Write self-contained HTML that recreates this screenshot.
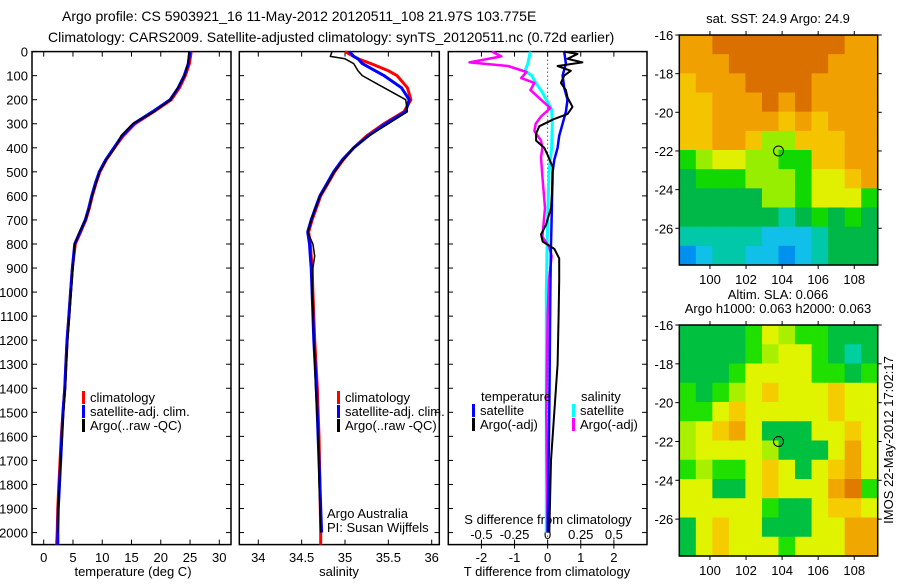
<!DOCTYPE html>
<html><head><meta charset="utf-8"><style>
body{margin:0;background:#fff;}
svg text{font-family:"Liberation Sans",sans-serif;font-size:13px;fill:#000;}
</style></head><body>
<svg id="fig" width="900" height="580" xmlns="http://www.w3.org/2000/svg">
<rect width="900" height="580" fill="#fff"/>
<text x="62" y="21" style="font-size:14px">Argo profile: CS 5903921_16 11-May-2012 20120511_108 21.97S 103.775E</text>
<text x="48" y="42" style="font-size:14px">Climatology: CARS2009. Satellite-adjusted climatology: synTS_20120511.nc (0.72d earlier)</text>
<g id="g"></g>
<text transform="translate(893,440) rotate(-90)" text-anchor="middle">IMOS 22-May-2012 17:02:17</text>
</svg>
<script>
// depth grids and values
const tDepth=[0,50,100,150,200,250,300,350,400,450,500,550,600,650,700,750,800,900,1000,1100,1200,1300,1400,1500,1600,1700,1800,1900,2000,2050];
const tClim=[25.2,24.9,24.2,23.2,21.8,18.8,15.6,13.6,12.1,10.7,9.6,8.9,8.3,7.8,7.2,6.3,5.4,4.9,4.6,4.3,4.0,3.8,3.6,3.3,3.0,2.8,2.6,2.4,2.3,2.2];
const tSat=[25.0,24.7,24.0,23.0,21.6,18.6,15.4,13.4,12.0,10.6,9.5,8.8,8.2,7.7,7.1,6.2,5.3,4.9,4.6,4.3,4.0,3.8,3.6,3.3,3.1,2.9,2.7,2.5,2.4,2.4];
const tArgo=[24.8,24.6,24.1,22.9,21.7,18.9,15.2,13.2,12.2,10.7,9.6,8.9,8.3,7.8,7.1,6.1,5.3,5.0,4.7,4.4,4.1,3.9,3.7,3.4,3.2,2.9,2.7,2.5,2.4,null];
const sDepth=[0,20,30,50,80,100,150,200,250,300,350,400,450,500,550,600,650,700,750,800,850,900,1000,1200,1400,1600,1800,2000,2050];
const sClim=[35.0,35.1,35.15,35.3,35.5,35.6,35.72,35.76,35.68,35.45,35.25,35.1,34.98,34.88,34.8,34.72,34.67,34.62,34.58,34.6,34.61,34.62,34.63,34.65,34.68,34.7,34.71,34.72,34.72];
const sSat=[35.05,35.1,35.15,35.2,35.35,35.45,35.65,35.74,35.7,35.47,35.27,35.1,34.97,34.87,34.79,34.71,34.66,34.61,34.57,34.59,34.6,34.61,34.62,34.64,34.67,34.69,34.71,34.73,null];
const sArgo=[34.85,34.83,35.0,35.1,35.15,35.2,35.45,35.7,35.72,35.5,35.28,35.1,34.98,34.88,34.8,34.71,34.66,34.61,34.57,34.63,34.65,34.63,34.62,34.64,34.66,34.69,34.7,34.72,null];
const dtSatDepth=[0,50,100,150,200,250,300,350,400,450,500,700,800,1000,1500,2000];
const dtSat=[0.5,0.55,0.45,0.5,0.6,0.55,0.45,0.35,0.3,0.2,0.15,0.12,0.1,0.08,0.05,0.0];
const dtArgoDepth=[0,10,30,45,60,80,100,130,160,190,230,260,280,310,340,370,400,430,480,550,650,720,760,790,820,860,950,1100,1300,1500,1700,2000];
const dtArgo=[0.5,0.9,0.6,1.05,0.3,0.7,0.5,0.4,0.55,0.6,0.75,0.6,0.2,-0.25,-0.35,-0.35,-0.1,0,0.15,0.15,0.1,-0.05,-0.2,-0.15,0.2,0.35,0.35,0.33,0.3,0.2,0.1,0.05];
const dsArgoDepth=[0,20,45,60,85,110,130,160,200,235,270,300,330,370,400,440,520,650,770,810,850,950,1100,1500,2000];
const dsArgo=[-0.42,-0.35,-0.59,-0.3,-0.16,-0.2,-0.1,-0.13,-0.05,0.02,-0.05,-0.09,-0.1,-0.05,-0.04,-0.05,-0.04,-0.02,-0.04,0.01,0.03,0.01,0,-0.01,0];
const dsSatDepth=[0,50,80,100,130,160,200,240,300,400,500,700,1000,2000];
const dsSat=[-0.13,-0.15,-0.17,-0.12,-0.09,-0.05,-0.01,0.03,0.035,0.03,0.01,0,-0.01,-0.01];
const depthTicks=[0,100,200,300,400,500,600,700,800,900,1000,1100,1200,1300,1400,1500,1600,1700,1800,1900,2000];
const tTicks=[0,5,10,15,20,25,30];
const sTicks=[34,34.5,35,35.5,36];
const dtTicks=[-2,-1,0,1,2];
const dsTicks=[-0.5,-0.25,0,0.25,0.5];
const lonTicks=[100,102,104,106,108];
const latTicks=[-16,-18,-20,-22,-24,-26];
const map1=["ooOOOOOOOOoo","oooOOOOOOooo","yoooOOOOoooo","yyoooOoOoooo","yyooooyoyooo","yyooyllyyyoo","glYYllggyyoo","GggglllgYYyo","GGGGGllgYYYg","GGGGGGtGgGgG","tttttccctGGG","bcttccbctGGG"];
const map2=["GGGGgYlggGGG","GGGGglYYgGtG","GGGgYYYYggGg","gGglYyYYYyYY","ggYyYYYYYyYY","lYyoYGGGYYyY","lYYYYlGGGYoY","glggYyYGYyoY","YYGGYyYYYoOg","YYYYYgGGYyyY","GYyYYGGGYYoo","GYyYYYgYYYoo"];
const C1={O:"#d97000",o:"#f0a000",y:"#f5c400",Y:"#e0f000",l:"#98ee00",g:"#10d800",G:"#00b848",t:"#00c8a8",c:"#10c0e8",b:"#0090f0"};
const C2={O:"#e07a00",o:"#f0a800",y:"#f5cc00",Y:"#e0f400",l:"#a8f000",g:"#20e000",G:"#00c040",t:"#00d0a0"};

const NS="http://www.w3.org/2000/svg";
const G=document.getElementById('g');
function mk(t,a,p){const e=document.createElementNS(NS,t);for(const k in a)e.setAttribute(k,a[k]);(p||G).appendChild(e);return e;}
const Y0=51.6,Y1=544.6,DMAX=2050;
const yD=d=>Y0+(d/DMAX)*(Y1-Y0);
function lin(d0,d1,r0,r1){return v=>r0+(v-d0)/(d1-d0)*(r1-r0);}
function line(xs,ds,fx,color,w,name){let p="";let f=true;for(let i=0;i<xs.length;i++){if(xs[i]==null)continue;p+=(f?"M":"L")+fx(xs[i]).toFixed(1)+","+yD(ds[i]).toFixed(1);f=false;}
 const e=mk('path',{d:p,fill:"none",stroke:color,"stroke-width":w,"stroke-linejoin":"round"});
 
 }
function frame(x0,x1,name){const e=mk('rect',{x:x0,y:Y0,width:x1-x0,height:Y1-Y0,fill:"none",stroke:"#000","stroke-width":1.5});
 
 }
function xticks(ticks,fx,labY,fmt){ticks.forEach(t=>{const x=fx(t);mk('line',{x1:x,x2:x,y1:Y1,y2:Y1-5,stroke:"#000"});mk('line',{x1:x,x2:x,y1:Y0,y2:Y0+5,stroke:"#000"});
 const tx=mk('text',{x:x,y:labY,"text-anchor":"middle"});tx.textContent=fmt?fmt(t):t;
 
 });}
function txt(x,y,s,name,anchor){const t=mk('text',{x:x,y:y,"text-anchor":anchor||"start"});t.textContent=s;
 
 return t;}
function leg(x,y,color,s,name){mk('rect',{x:x,y:y-11,width:3,height:13,fill:color});txt(x+8,y,s,name);}

// panel 1 temperature
const fT=lin(-2,32,32,231);
frame(32,231,'temperature-panel');
depthTicks.forEach(d=>{const y=yD(d);mk('line',{x1:32,x2:37,y1:y,y2:y,stroke:"#000"});mk('line',{x1:231,x2:226,y1:y,y2:y,stroke:"#000"});
 txt(28,y+5,String(d),'depth-tick-label','end');});
xticks(tTicks,fT,562);
txt(133,576,'temperature (deg C)','temperature-axis-title','middle');
line(tClim,tDepth,fT,"#f00",3,'temp-climatology-line');
line(tSat,tDepth,fT,"#00f",3,'temp-satellite-line');
line(tArgo,tDepth,fT,"#000",1.5,'temp-argo-line');
leg(82,402,"#f00","climatology",'legend-climatology');
leg(82,416,"#00f","satellite-adj. clim.",'legend-satellite');
leg(82,430,"#000","Argo(..raw -QC)",'legend-argo');

// panel 2 salinity
const fS=lin(34,36,258.3,431.7);
frame(239.3,439.3,'salinity-panel');
depthTicks.forEach(d=>{const y=yD(d);mk('line',{x1:239.3,x2:244,y1:y,y2:y,stroke:"#000"});mk('line',{x1:439.3,x2:434.5,y1:y,y2:y,stroke:"#000"});});
xticks(sTicks,fS,562);
txt(339,576,'salinity','salinity-axis-title','middle');
line(sClim,sDepth,fS,"#f00",3,'sal-climatology-line');
line(sSat,sDepth,fS,"#00f",3,'sal-satellite-line');
line(sArgo,sDepth,fS,"#000",1.5,'sal-argo-line');
leg(337,402,"#f00","climatology",'legend-climatology-2');
leg(337,416,"#00f","satellite-adj. clim.",'legend-satellite-2');
leg(337,430,"#000","Argo(..raw -QC)",'legend-argo-2');
txt(327,518,'Argo Australia','institution-label');
txt(327,532,'PI: Susan Wijffels','pi-label');

// panel 3 differences
const fDT=lin(-3,3,448.3,647);
const fDS=v=>fDT(v*4);
frame(448.3,647,'difference-panel');
depthTicks.forEach(d=>{const y=yD(d);mk('line',{x1:448.3,x2:453,y1:y,y2:y,stroke:"#000"});mk('line',{x1:647,x2:642,y1:y,y2:y,stroke:"#000"});});
mk('line',{x1:fDT(0),x2:fDT(0),y1:Y0,y2:Y1,stroke:"#000","stroke-dasharray":"1,3"});
dtTicks.forEach(t=>{const x=fDT(t);mk('line',{x1:x,x2:x,y1:Y1,y2:Y1+4,stroke:"#000"});mk('line',{x1:x,x2:x,y1:Y0,y2:Y0+5,stroke:"#000"});
 txt(x,562,String(t),'t-diff-tick-label','middle');});
dsTicks.forEach(t=>{const x=fDS(t);mk('line',{x1:x,x2:x,y1:Y1,y2:Y1-5,stroke:"#000"});
 txt(x,539,String(t),'s-diff-tick-label','middle');});
txt(548,524,'S difference from climatology','s-diff-axis-title','middle');
txt(547,576,'T difference from climatology','t-diff-axis-title','middle');
line(dsSat,dsSatDepth,fDS,"#0ff",3,'sal-satellite-diff-line');
line(dsArgo,dsArgoDepth,fDS,"#f0f",2.5,'sal-argo-diff-line');
line(dtSat,dtSatDepth,fDT,"#00f",2.5,'temp-satellite-diff-line');
line(dtArgo,dtArgoDepth,fDT,"#000",2,'temp-argo-diff-line');
txt(481,401,'temperature','legend-temperature-header');
leg(472,415,"#00f","satellite",'legend-t-satellite');
leg(472,429,"#000","Argo(-adj)",'legend-t-argo');
txt(581,401,'salinity','legend-salinity-header');
leg(572,415,"#0ff","satellite",'legend-s-satellite');
leg(572,429,"#f0f","Argo(-adj)",'legend-s-argo');

// maps
function drawMap(grid,cols,top,bot,name,titleLines){
 const L=679.3,R=877.7;
 const fx=lin(98.3,109.3,L,R), fy=lin(-16,-26,top,top+(bot-top)*(10/11.9));
 const cw=(R-L)/12,ch=(bot-top)/12;
 const g=mk('g',{});
 
 
 grid.forEach((row,r)=>{for(let c=0;c<12;c++){mk('rect',{x:L+c*cw,y:top+r*ch,width:cw+0.6,height:ch+0.6,fill:cols[row[c]]||"#e0f000"},g);}});
 mk('rect',{x:L,y:top,width:R-L,height:bot-top,fill:"none",stroke:"#000","stroke-width":1.5});
 lonTicks.forEach(t=>{const x=fx(t);mk('line',{x1:x,x2:x,y1:top,y2:top-4,stroke:"#000"});mk('line',{x1:x,x2:x,y1:bot,y2:bot+4,stroke:"#000"});txt(x,bot+19,String(t),'lon-tick-label','middle');});
 latTicks.forEach(t=>{const y=fy(t);mk('line',{x1:L,x2:L-4,y1:y,y2:y,stroke:"#000"});mk('line',{x1:R,x2:R+4,y1:y,y2:y,stroke:"#000"});txt(L-6,y+5,String(t),'lat-tick-label','end');});
 const c=mk('circle',{cx:fx(103.8),cy:fy(-22),r:5,fill:"none",stroke:"#000","stroke-width":1});
 
 
 titleLines.forEach((s,i)=>txt(778,top-(titleLines.length-i)*14+2,s,'map-title','middle'));
}
drawMap(map1,C1,35,265,'sst-map',['sat. SST: 24.9 Argo: 24.9']);
drawMap(map2,C2,325,556,'sla-map',['Altim. SLA: 0.066','Argo h1000: 0.063 h2000: 0.063']);
</script>
</body></html>
